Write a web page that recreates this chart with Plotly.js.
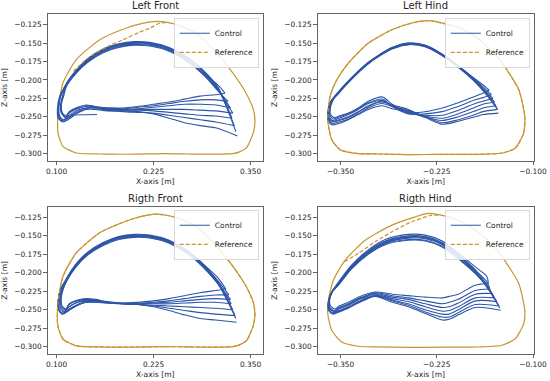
<!DOCTYPE html>
<html>
<head>
<meta charset="utf-8">
<script src="https://cdn.plot.ly/plotly-3.0.1.min.js"></script>
<style>html,body{margin:0;padding:0;background:#fff;}#chart{width:550px;height:381px;}</style>
</head>
<body>
<div id="chart"></div>
<script>
// ---------------- DATA ----------------
const panelTitles = ["Left Front", "Left Hind", "Rigth Front", "Rigth Hind"];
const xTicksFront = [0.100, 0.225, 0.350];
const xTicksHind = [-0.350, -0.225, -0.100];
const zTicks = [-0.300, -0.275, -0.250, -0.225, -0.200, -0.175, -0.150, -0.125];

// Reference loops
const lfRefX = [0.229,0.250,0.268,0.285,0.306,0.327,0.344,0.3535,0.3557,0.3535,0.3445,0.335,0.327,0.300,0.270,0.240,0.200,0.170,0.1557,0.1253,0.1081,0.1017,0.1012,0.1017,0.1081,0.1253,0.1557,0.1899,0.212,0.229];
const lfRefZ = [-0.1205,-0.1236,-0.130,-0.141,-0.1635,-0.1905,-0.2177,-0.2399,-0.256,-0.2716,-0.2923,-0.2980,-0.3000,-0.3008,-0.3005,-0.3000,-0.3008,-0.3008,-0.3005,-0.2991,-0.2901,-0.2719,-0.256,-0.2403,-0.2041,-0.1725,-0.1453,-0.1295,-0.1228,-0.1205];
const lfChordX = [0.1213,0.143,0.165,0.186,0.205,0.2205,0.2333,0.242];
const lfChordZ = [-0.1883,-0.168,-0.155,-0.1453,-0.136,-0.1295,-0.1227,-0.1225];

const rfRefX = [0.228,0.249,0.267,0.285,0.306,0.327,0.344,0.3535,0.3556,0.3535,0.3447,0.335,0.327,0.300,0.270,0.240,0.200,0.170,0.1557,0.1255,0.1083,0.1015,0.1009,0.1017,0.1083,0.1255,0.1560,0.1900,0.212,0.228];
const rfRefZ = [-0.1205,-0.1238,-0.1305,-0.1415,-0.1640,-0.1910,-0.2180,-0.2400,-0.2560,-0.2715,-0.2920,-0.2980,-0.3000,-0.3008,-0.3004,-0.3000,-0.3006,-0.3007,-0.3004,-0.2990,-0.2900,-0.2720,-0.2560,-0.2405,-0.2045,-0.1728,-0.1455,-0.1298,-0.1230,-0.1205];

const lhRefX = [-0.2365,-0.2096,-0.192,-0.1749,-0.157,-0.1401,-0.1185,-0.1107,-0.112,-0.1228,-0.1401,-0.170,-0.2182,-0.2617,-0.300,-0.3268,-0.3506,-0.3615,-0.3667,-0.3637,-0.355,-0.3398,-0.3138,-0.2833,-0.2573,-0.2365];
const lhRefZ = [-0.1195,-0.125,-0.131,-0.1409,-0.157,-0.177,-0.2132,-0.2494,-0.2719,-0.2923,-0.2991,-0.3010,-0.3010,-0.3013,-0.3005,-0.3000,-0.2946,-0.2810,-0.2539,-0.2223,-0.200,-0.177,-0.1499,-0.1318,-0.1227,-0.1195];

const rhRefX = [-0.2357,-0.2096,-0.192,-0.1749,-0.157,-0.1401,-0.1185,-0.1107,-0.112,-0.1228,-0.1401,-0.170,-0.2182,-0.2617,-0.3051,-0.3268,-0.3484,-0.3615,-0.3667,-0.3659,-0.3594,-0.3441,-0.318,-0.2833,-0.253,-0.2357];
const rhRefZ = [-0.1196,-0.1242,-0.1315,-0.1422,-0.158,-0.1784,-0.2145,-0.2507,-0.2688,-0.2891,-0.2982,-0.3005,-0.3008,-0.3010,-0.3003,-0.2995,-0.2937,-0.2779,-0.2552,-0.2372,-0.210,-0.183,-0.1558,-0.1355,-0.1242,-0.1196];
const rhChordX = [-0.345,-0.327,-0.305,-0.2833,-0.260,-0.2313,-0.222];
const rhChordZ = [-0.185,-0.1738,-0.158,-0.1445,-0.132,-0.1219,-0.1222];

// Control: Left Front
const lfTips = [[0.333,-0.276],[0.329,-0.262],[0.326,-0.252],[0.327,-0.245],[0.324,-0.238],[0.321,-0.229],[0.317,-0.218],[0.331,-0.270]];
const lfLowX = [0.305,0.285,0.265,0.245,0.225,0.205,0.185,0.165,0.150,0.138,0.127,0.116];
const lfLow = [
  [-0.265,-0.262,-0.258,-0.252,-0.246,-0.243,-0.242,-0.242,-0.240,-0.240,-0.245,-0.253],
  [-0.257,-0.254,-0.251,-0.248,-0.245,-0.244,-0.243,-0.241,-0.238,-0.238,-0.241,-0.248],
  [-0.249,-0.248,-0.246,-0.244,-0.242,-0.241,-0.241,-0.240,-0.237,-0.235,-0.238,-0.244],
  [-0.242,-0.241,-0.240,-0.240,-0.240,-0.240,-0.241,-0.239,-0.238,-0.238,-0.243,-0.250],
  [-0.234,-0.233,-0.233,-0.235,-0.237,-0.239,-0.240,-0.239,-0.237,-0.236,-0.239,-0.245],
  [-0.227,-0.227,-0.229,-0.232,-0.235,-0.237,-0.239,-0.238,-0.237,-0.239,-0.244,-0.251],
  [-0.220,-0.222,-0.226,-0.230,-0.233,-0.236,-0.238,-0.238,-0.236,-0.234,-0.237,-0.243]
];
const lfLoops = [
  [[0.108,-0.257],[0.102,-0.252],[0.101,-0.239],[0.104,-0.222]],
  [[0.109,-0.254],[0.104,-0.249],[0.103,-0.236],[0.106,-0.220]],
  [[0.111,-0.250],[0.106,-0.245],[0.105,-0.234],[0.108,-0.221]],
  [[0.108,-0.255],[0.103,-0.250],[0.102,-0.237],[0.105,-0.221]],
  [[0.111,-0.251],[0.107,-0.245],[0.106,-0.233],[0.109,-0.222]],
  [[0.108,-0.256],[0.103,-0.251],[0.102,-0.238],[0.105,-0.221]],
  [[0.112,-0.249],[0.107,-0.244],[0.106,-0.233],[0.108,-0.221]]
];
const lfArcX = [0.113,0.125,0.140,0.160,0.180,0.200,0.220,0.245,0.270,0.293,0.308];
const lfArc = [
  [-0.206,-0.189,-0.173,-0.160,-0.153,-0.150,-0.151,-0.158,-0.172,-0.193,-0.212],
  [-0.204,-0.187,-0.171,-0.158,-0.151,-0.148,-0.149,-0.156,-0.170,-0.191,-0.210],
  [-0.207,-0.190,-0.175,-0.162,-0.155,-0.152,-0.153,-0.160,-0.175,-0.196,-0.214],
  [-0.205,-0.188,-0.172,-0.159,-0.152,-0.149,-0.150,-0.157,-0.171,-0.193,-0.213],
  [-0.208,-0.191,-0.176,-0.163,-0.156,-0.153,-0.154,-0.161,-0.176,-0.197,-0.215],
  [-0.206,-0.189,-0.174,-0.161,-0.154,-0.151,-0.152,-0.159,-0.174,-0.195,-0.207],
  [-0.205,-0.188,-0.172,-0.159,-0.152,-0.149,-0.150,-0.157,-0.171,-0.192,-0.211]
];
const lfStubX = [0.152,0.135,0.118];
const lfStubZ = [-0.2468,-0.2470,-0.2476];

// Control: Right Front
const rfTips = [[0.332,-0.267],[0.327,-0.250],[0.322,-0.230],[0.330,-0.258],[0.325,-0.242],[0.318,-0.222],[0.324,-0.236],[0.331,-0.262]];
const rfLowX = [0.305,0.285,0.265,0.245,0.225,0.205,0.185,0.165,0.150,0.138,0.127,0.116];
const rfLow = [
  [-0.264,-0.262,-0.257,-0.251,-0.246,-0.243,-0.242,-0.241,-0.240,-0.240,-0.244,-0.251],
  [-0.248,-0.247,-0.246,-0.245,-0.244,-0.243,-0.242,-0.240,-0.238,-0.238,-0.240,-0.246],
  [-0.230,-0.232,-0.235,-0.238,-0.240,-0.241,-0.241,-0.240,-0.237,-0.236,-0.238,-0.243],
  [-0.256,-0.254,-0.251,-0.248,-0.245,-0.243,-0.242,-0.241,-0.239,-0.239,-0.243,-0.249],
  [-0.240,-0.240,-0.241,-0.242,-0.242,-0.242,-0.242,-0.240,-0.238,-0.237,-0.240,-0.246],
  [-0.224,-0.227,-0.231,-0.235,-0.238,-0.240,-0.241,-0.239,-0.236,-0.235,-0.237,-0.242],
  [-0.235,-0.236,-0.238,-0.240,-0.241,-0.242,-0.242,-0.240,-0.239,-0.240,-0.244,-0.250]
];
const rfLoops = [
  [[0.108,-0.256],[0.103,-0.251],[0.102,-0.239],[0.105,-0.224]],
  [[0.109,-0.253],[0.104,-0.249],[0.103,-0.237],[0.106,-0.223]],
  [[0.111,-0.250],[0.106,-0.246],[0.105,-0.235],[0.108,-0.223]],
  [[0.108,-0.255],[0.103,-0.251],[0.102,-0.238],[0.105,-0.223]],
  [[0.110,-0.252],[0.105,-0.247],[0.104,-0.235],[0.107,-0.222]],
  [[0.112,-0.249],[0.107,-0.245],[0.106,-0.234],[0.108,-0.223]],
  [[0.108,-0.255],[0.103,-0.250],[0.102,-0.238],[0.105,-0.223]]
];
const rfArcX = [0.113,0.125,0.140,0.160,0.180,0.200,0.220,0.245,0.270,0.293,0.308];
const rfArc = [
  [-0.209,-0.190,-0.174,-0.161,-0.153,-0.150,-0.151,-0.158,-0.173,-0.195,-0.214],
  [-0.207,-0.188,-0.172,-0.159,-0.151,-0.148,-0.149,-0.156,-0.171,-0.193,-0.211],
  [-0.210,-0.191,-0.175,-0.162,-0.154,-0.151,-0.152,-0.159,-0.174,-0.196,-0.215],
  [-0.208,-0.189,-0.173,-0.160,-0.152,-0.149,-0.150,-0.157,-0.172,-0.194,-0.213],
  [-0.209,-0.190,-0.174,-0.161,-0.153,-0.150,-0.151,-0.157,-0.171,-0.192,-0.207],
  [-0.211,-0.192,-0.176,-0.163,-0.155,-0.152,-0.153,-0.160,-0.175,-0.197,-0.215],
  [-0.208,-0.189,-0.173,-0.160,-0.152,-0.149,-0.150,-0.157,-0.172,-0.194,-0.213]
];

// Control: Left Hind
const lhTips = [[-0.145,-0.245],[-0.152,-0.225],[-0.146,-0.240],[-0.157,-0.214],[-0.148,-0.235],[-0.154,-0.220],[-0.150,-0.230],[-0.147,-0.238]];
const lhLowX = [-0.165,-0.175,-0.197,-0.218,-0.240,-0.262,-0.283,-0.296,-0.314,-0.327,-0.340,-0.352];
const lhLow = [
  [-0.247,-0.250,-0.256,-0.260,-0.251,-0.243,-0.239,-0.235,-0.240,-0.247,-0.254,-0.259],
  [-0.229,-0.232,-0.241,-0.248,-0.248,-0.245,-0.235,-0.228,-0.232,-0.240,-0.247,-0.252],
  [-0.243,-0.247,-0.254,-0.258,-0.250,-0.241,-0.236,-0.232,-0.238,-0.246,-0.253,-0.257],
  [-0.218,-0.222,-0.231,-0.238,-0.243,-0.244,-0.233,-0.223,-0.229,-0.238,-0.245,-0.249],
  [-0.238,-0.242,-0.250,-0.255,-0.250,-0.240,-0.234,-0.230,-0.236,-0.244,-0.251,-0.255],
  [-0.224,-0.227,-0.236,-0.243,-0.246,-0.246,-0.236,-0.226,-0.231,-0.239,-0.246,-0.250],
  [-0.233,-0.237,-0.246,-0.252,-0.249,-0.242,-0.235,-0.229,-0.235,-0.243,-0.250,-0.254]
];
const lhLoops = [
  [[-0.361,-0.261],[-0.366,-0.255],[-0.366,-0.243],[-0.362,-0.229]],
  [[-0.360,-0.255],[-0.365,-0.250],[-0.365,-0.239],[-0.361,-0.227]],
  [[-0.361,-0.259],[-0.366,-0.253],[-0.366,-0.241],[-0.362,-0.228]],
  [[-0.358,-0.251],[-0.363,-0.247],[-0.363,-0.237],[-0.359,-0.226]],
  [[-0.361,-0.257],[-0.366,-0.252],[-0.366,-0.240],[-0.362,-0.228]],
  [[-0.359,-0.253],[-0.364,-0.248],[-0.364,-0.238],[-0.360,-0.226]],
  [[-0.360,-0.256],[-0.365,-0.251],[-0.365,-0.240],[-0.361,-0.227]]
];
const lhArcX = [-0.355,-0.345,-0.330,-0.315,-0.300,-0.283,-0.262,-0.240,-0.218,-0.197,-0.176,-0.162];
const lhArc = [
  [-0.220,-0.208,-0.192,-0.178,-0.167,-0.157,-0.151,-0.154,-0.166,-0.182,-0.201,-0.215],
  [-0.221,-0.209,-0.193,-0.179,-0.168,-0.158,-0.152,-0.155,-0.167,-0.183,-0.202,-0.218],
  [-0.219,-0.207,-0.191,-0.177,-0.166,-0.156,-0.150,-0.153,-0.165,-0.181,-0.198,-0.209],
  [-0.220,-0.208,-0.192,-0.178,-0.167,-0.157,-0.151,-0.154,-0.166,-0.182,-0.201,-0.217],
  [-0.221,-0.209,-0.193,-0.178,-0.167,-0.157,-0.151,-0.154,-0.166,-0.181,-0.199,-0.212],
  [-0.220,-0.208,-0.192,-0.177,-0.166,-0.156,-0.150,-0.153,-0.165,-0.181,-0.200,-0.215],
  [-0.219,-0.207,-0.191,-0.178,-0.167,-0.157,-0.152,-0.155,-0.167,-0.183,-0.202,-0.218]
];

// Control: Right Hind
const rhTips = [[-0.142,-0.2507],[-0.156,-0.222],[-0.144,-0.245],[-0.158,-0.214],[-0.147,-0.239],[-0.154,-0.228],[-0.150,-0.234],[-0.143,-0.248]];
const rhLowX = [-0.175,-0.197,-0.209,-0.218,-0.240,-0.262,-0.283,-0.305,-0.327,-0.340,-0.352];
const rhLow = [
  [-0.247,-0.257,-0.263,-0.264,-0.255,-0.246,-0.240,-0.232,-0.241,-0.248,-0.253],
  [-0.224,-0.236,-0.240,-0.242,-0.238,-0.234,-0.231,-0.227,-0.235,-0.242,-0.247],
  [-0.243,-0.254,-0.260,-0.260,-0.253,-0.244,-0.238,-0.231,-0.240,-0.247,-0.252],
  [-0.217,-0.229,-0.232,-0.234,-0.233,-0.231,-0.229,-0.226,-0.233,-0.240,-0.245],
  [-0.238,-0.250,-0.256,-0.256,-0.250,-0.242,-0.237,-0.230,-0.239,-0.246,-0.251],
  [-0.229,-0.241,-0.246,-0.247,-0.242,-0.236,-0.233,-0.228,-0.236,-0.243,-0.248],
  [-0.234,-0.246,-0.251,-0.252,-0.246,-0.239,-0.235,-0.229,-0.237,-0.244,-0.249]
];
const rhLoops = [
  [[-0.359,-0.256],[-0.365,-0.252],[-0.366,-0.242],[-0.362,-0.228]],
  [[-0.358,-0.251],[-0.364,-0.247],[-0.365,-0.237],[-0.361,-0.225]],
  [[-0.359,-0.255],[-0.365,-0.251],[-0.366,-0.241],[-0.362,-0.227]],
  [[-0.357,-0.249],[-0.363,-0.245],[-0.364,-0.235],[-0.360,-0.224]],
  [[-0.359,-0.254],[-0.365,-0.250],[-0.366,-0.240],[-0.362,-0.227]],
  [[-0.358,-0.252],[-0.364,-0.248],[-0.365,-0.238],[-0.361,-0.226]],
  [[-0.358,-0.253],[-0.364,-0.249],[-0.365,-0.239],[-0.361,-0.226]]
];
const rhArcX = [-0.353,-0.336,-0.314,-0.292,-0.262,-0.240,-0.218,-0.197,-0.175,-0.160];
const rhArc = [
  [-0.2145,-0.192,-0.1716,-0.158,-0.1513,-0.152,-0.160,-0.176,-0.1965,-0.212],
  [-0.216,-0.194,-0.174,-0.161,-0.155,-0.156,-0.164,-0.180,-0.200,-0.219],
  [-0.213,-0.190,-0.169,-0.155,-0.148,-0.149,-0.157,-0.173,-0.192,-0.205],
  [-0.215,-0.193,-0.172,-0.159,-0.152,-0.153,-0.161,-0.177,-0.198,-0.218],
  [-0.217,-0.195,-0.175,-0.162,-0.156,-0.157,-0.165,-0.181,-0.201,-0.218],
  [-0.214,-0.191,-0.170,-0.157,-0.150,-0.151,-0.159,-0.175,-0.196,-0.216],
  [-0.216,-0.193,-0.173,-0.160,-0.153,-0.154,-0.162,-0.178,-0.199,-0.219]
];

// ---------------- BUILD ----------------
const ctrlColor = "#2d55a6";
const refColor = "#c6962f";
const traces = [];

function refTraces(rx, rz, cx, cz, xa, ya, lg) {
  traces.push({x: rx, y: rz, xaxis: xa, yaxis: ya, mode: "lines", showlegend: false, hoverinfo: "skip",
    line: {color: refColor, width: 1.2, shape: "spline", smoothing: 0.6}});
  return {x: cx, y: cz, xaxis: xa, yaxis: ya, mode: "lines", name: "Reference", legend: lg, showlegend: true,
    line: {color: refColor, width: 1.2, dash: "4px,2px", shape: "spline", smoothing: 0.6}};
}

function controlTraces(tips, lowX, low, loops, arcX, arc, xa, ya, lg) {
  for (let k = 0; k < low.length; k++) {
    const xs = [tips[k][0]].concat(lowX, loops[k].map(p => p[0]), arcX, [tips[k + 1][0]]);
    const zs = [tips[k][1]].concat(low[k], loops[k].map(p => p[1]), arc[k], [tips[k + 1][1]]);
    traces.push({x: xs, y: zs, xaxis: xa, yaxis: ya, mode: "lines", name: "Control", legend: lg,
      legendgroup: lg + "c", showlegend: k === 0,
      line: {color: ctrlColor, width: 1.1, shape: "spline", smoothing: 0.8}});
  }
}

const panels = [
  {xa: "x", ya: "y", lg: "legend", ref: [lfRefX, lfRefZ], chord: [lfChordX, lfChordZ],
   ctrl: [lfTips, lfLowX, lfLow, lfLoops, lfArcX, lfArc]},
  {xa: "x2", ya: "y2", lg: "legend2", ref: [lhRefX, lhRefZ], chord: [lhRefX, lhRefZ],
   ctrl: [lhTips, lhLowX, lhLow, lhLoops, lhArcX, lhArc]},
  {xa: "x3", ya: "y3", lg: "legend3", ref: [rfRefX, rfRefZ], chord: [rfRefX, rfRefZ],
   ctrl: [rfTips, rfLowX, rfLow, rfLoops, rfArcX, rfArc]},
  {xa: "x4", ya: "y4", lg: "legend4", ref: [rhRefX, rhRefZ], chord: [rhChordX, rhChordZ],
   ctrl: [rhTips, rhLowX, rhLow, rhLoops, rhArcX, rhArc]}
];

panels.forEach((p, i) => {
  const dashed = refTraces(p.ref[0], p.ref[1], p.chord[0], p.chord[1], p.xa, p.ya, p.lg);
  if (i === 0) {
    traces.push({x: lfStubX, y: lfStubZ, xaxis: p.xa, yaxis: p.ya, mode: "lines", showlegend: false,
      line: {color: ctrlColor, width: 1.1}});
  }
  controlTraces(...p.ctrl, p.xa, p.ya, p.lg);
  traces.push(dashed);
});

const FONT = "DejaVu Sans, Liberation Sans, sans-serif";
const TXT = "#262626";
const LINE = "#3d3d3d";

function xAxis(range, ticks, dom, anchor) {
  return {domain: dom, range: range, anchor: anchor, tickvals: ticks, tickformat: ".3f",
    showgrid: false, zeroline: false, showline: true, mirror: true, linecolor: LINE, linewidth: 0.8,
    ticks: "outside", ticklen: 3.5, tickwidth: 0.8, tickcolor: LINE,
    tickfont: {size: 7.4, color: TXT, family: FONT},
    title: {text: "X-axis [m]", font: {size: 7.6, color: TXT, family: FONT}, standoff: 3}};
}
function yAxis(dom, anchor) {
  return {domain: dom, range: [-0.3100, -0.1105], anchor: anchor, tickvals: zTicks, tickformat: ".3f",
    showgrid: false, zeroline: false, showline: true, mirror: true, linecolor: LINE, linewidth: 0.8,
    ticks: "outside", ticklen: 3.5, tickwidth: 0.8, tickcolor: LINE,
    tickfont: {size: 7.4, color: TXT, family: FONT},
    title: {text: "Z-axis [m]", font: {size: 7.6, color: TXT, family: FONT}, standoff: 5}};
}

const xdomL = [47.5 / 550, 263 / 550];
const xdomR = [317.5 / 550, 534 / 550];
const ydomT = [1 - 161 / 381, 1 - 14 / 381];
const ydomB = [1 - 354 / 381, 1 - 206.7 / 381];
const rangeFront = [0.0882, 0.3660];
const rangeHind = [-0.3800, -0.0987];

function legendAt(x, y) {
  return {x: x, y: y, xanchor: "right", yanchor: "top", bgcolor: "rgba(255,255,255,0.85)",
    bordercolor: "#cfcfcf", borderwidth: 0.8, font: {size: 7.5, color: TXT, family: FONT},
    itemwidth: 30, tracegroupgap: 0};
}

const titlePos = [
  [(xdomL[0] + xdomL[1]) / 2, 1 - 6 / 381],
  [(xdomR[0] + xdomR[1]) / 2, 1 - 6 / 381],
  [(xdomL[0] + xdomL[1]) / 2, 1 - 198.5 / 381],
  [(xdomR[0] + xdomR[1]) / 2, 1 - 198.5 / 381]
];

const layout = {
  width: 550, height: 381,
  margin: {l: 0, r: 0, t: 0, b: 0},
  paper_bgcolor: "#ffffff", plot_bgcolor: "#ffffff",
  font: {family: FONT, color: TXT},
  showlegend: true,
  xaxis: xAxis(rangeFront, xTicksFront, xdomL, "y"),
  yaxis: yAxis(ydomT, "x"),
  xaxis2: xAxis(rangeHind, xTicksHind, xdomR, "y2"),
  yaxis2: yAxis(ydomT, "x2"),
  xaxis3: xAxis(rangeFront, xTicksFront, xdomL, "y3"),
  yaxis3: yAxis(ydomB, "x3"),
  xaxis4: xAxis(rangeHind, xTicksHind, xdomR, "y4"),
  yaxis4: yAxis(ydomB, "x4"),
  legend: legendAt(259 / 550, 1 - 18 / 381),
  legend2: legendAt(530 / 550, 1 - 18 / 381),
  legend3: legendAt(259 / 550, 1 - 210 / 381),
  legend4: legendAt(530 / 550, 1 - 210 / 381),
  annotations: panelTitles.map((t, i) => ({
    text: t, xref: "paper", yref: "paper", x: titlePos[i][0], y: titlePos[i][1],
    xanchor: "center", yanchor: "middle", showarrow: false,
    font: {size: 10, color: TXT, family: FONT}
  }))
};

Plotly.newPlot("chart", traces, layout, {staticPlot: true, displayModeBar: false});
</script>
</body>
</html>
